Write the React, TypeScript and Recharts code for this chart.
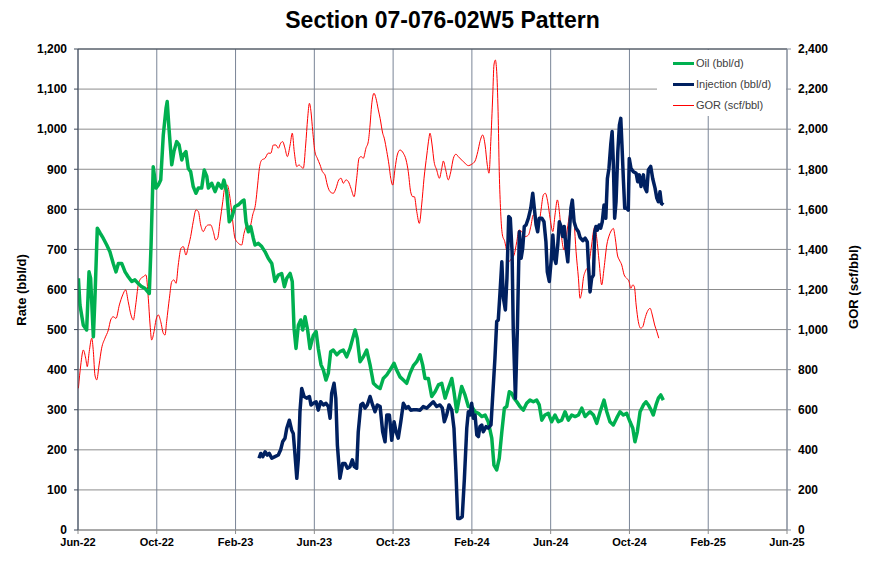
import { ComposedChart, Line, XAxis, YAxis, CartesianGrid, ReferenceLine } from "recharts";

// x values are months since Jun-22 (0 = Jun-22, 36 = Jun-25)
const xTicks = [0, 4, 8, 12, 16, 20, 24, 28, 32, 36];
const xTickLabels = ["Jun-22", "Oct-22", "Feb-23", "Jun-23", "Oct-23", "Feb-24", "Jun-24", "Oct-24", "Feb-25", "Jun-25"];
const rateTicks = [0, 100, 200, 300, 400, 500, 600, 700, 800, 900, 1000, 1100, 1200];
const gorTicks = [0, 200, 400, 600, 800, 1000, 1200, 1400, 1600, 1800, 2000, 2200, 2400];

const oilMonths = [
  0.02, 0.1, 0.27, 0.44, 0.56, 0.64, 0.78, 0.86, 0.98, 1.12, 1.28, 1.46, 1.62, 1.79, 1.93, 2.05, 2.22, 2.39, 2.55, 2.73,
  2.89, 3.06, 3.23, 3.4, 3.62, 3.71, 3.82, 3.96, 4.08, 4.2, 4.33, 4.47, 4.53, 4.62, 4.76, 4.87, 5.01, 5.13, 5.27, 5.35,
  5.48, 5.6, 5.72, 5.85, 5.99, 6.11, 6.28, 6.41, 6.54, 6.62, 6.79, 6.96, 7.12, 7.3, 7.41, 7.55, 7.68, 7.8, 7.97, 8.14,
  8.33, 8.43, 8.53, 8.65, 8.77, 8.9, 8.99, 9.16, 9.33, 9.5, 9.66, 9.84, 10.0, 10.17, 10.34, 10.48, 10.6, 10.77, 10.88,
  10.97, 11.07, 11.19, 11.31, 11.41, 11.53, 11.66, 11.78, 11.95, 12.09, 12.2, 12.34, 12.46, 12.59, 12.71, 12.83, 12.96,
  13.14, 13.3, 13.47, 13.64, 13.81, 13.95, 14.07, 14.18, 14.32, 14.49, 14.66, 14.83, 15.0, 15.17, 15.34, 15.5, 15.68,
  15.84, 16.05, 16.18, 16.35, 16.52, 16.69, 16.86, 17.03, 17.2, 17.37, 17.5, 17.62, 17.79, 17.96, 18.13, 18.3, 18.47,
  18.64, 18.8, 18.98, 19.09, 19.23, 19.36, 19.48, 19.65, 19.82, 19.99, 20.16, 20.33, 20.5, 20.67, 20.83, 21.01, 21.12,
  21.26, 21.39, 21.52, 21.65, 21.77, 21.9, 22.02, 22.14, 22.28, 22.44, 22.61, 22.78, 22.95, 23.12, 23.29, 23.42, 23.55,
  23.71, 23.88, 24.05, 24.22, 24.39, 24.56, 24.73, 24.9, 25.07, 25.24, 25.41, 25.58, 25.75, 25.91, 26.0, 26.17, 26.34,
  26.51, 26.71, 26.85, 27.01, 27.18, 27.35, 27.52, 27.69, 27.86, 28.03, 28.17, 28.28, 28.4, 28.54, 28.71, 28.84, 28.96,
  29.1, 29.21, 29.35, 29.47, 29.59, 29.72,
];
const oilRate = [
  628, 561, 511, 499, 644, 628, 482, 578, 753, 741, 728, 711, 694, 665, 644, 665, 665, 644, 632, 620,
  624, 615, 607, 603, 590, 711, 906, 853, 861, 873, 985, 1052, 1069, 1002, 911, 944, 969, 961, 923, 936,
  944, 902, 894, 857, 840, 853, 853, 898, 882, 853, 865, 844, 865, 853, 873, 844, 769, 778, 807, 811,
  820, 823, 769, 744, 757, 728, 711, 715, 707, 694, 678, 665, 620, 636, 640, 607, 628, 640, 620,
  503, 453, 511, 524, 499, 532, 499, 453, 486, 495, 453, 412, 399, 374, 391, 445, 449,
  437, 445, 449, 432, 453, 478, 499, 478, 420, 432, 449, 412, 366, 358, 353, 378, 387,
  399, 416, 399, 382, 374, 366, 391, 410, 420, 437, 412, 378, 378, 333, 345, 362, 366,
  329, 353, 378, 345, 295, 329, 358, 337, 308, 308, 295, 291, 283, 287, 270, 229, 162,
  150, 179, 245, 304, 308, 345, 341, 329, 320, 308, 299, 316, 324, 320, 324, 312, 274,
  287, 291, 270, 287, 270, 274, 295, 274, 287, 283, 287, 304, 283, 291, 295, 287, 266,
  295, 324, 295, 270, 262, 279, 295, 287, 291, 270, 254, 220, 245, 295, 312, 320, 312,
  299, 287, 312, 329, 337, 324,
];

const injMonths = [
  9.19, 9.28, 9.38, 9.5, 9.61, 9.71, 9.84, 10.0, 10.17, 10.29, 10.39, 10.51, 10.6, 10.73, 10.85, 10.93, 11.02, 11.11,
  11.19, 11.27, 11.36, 11.48, 11.61, 11.75, 11.83, 11.95, 12.09, 12.2, 12.32, 12.46, 12.59, 12.71, 12.8, 12.88, 13.0,
  13.09, 13.17, 13.3, 13.44, 13.56, 13.68, 13.81, 13.93, 14.03, 14.15, 14.23, 14.36, 14.46, 14.57, 14.69, 14.83, 14.96,
  15.08, 15.2, 15.34, 15.47, 15.59, 15.68, 15.81, 15.93, 16.05, 16.15, 16.26, 16.39, 16.52, 16.66, 16.77, 16.89, 17.03,
  17.2, 17.37, 17.53, 17.71, 17.87, 18.04, 18.21, 18.38, 18.5, 18.6, 18.72, 18.84, 18.98, 19.09, 19.19, 19.28, 19.4,
  19.51, 19.62, 19.74, 19.82, 19.91, 19.99, 20.07, 20.16, 20.25, 20.33, 20.41, 20.5, 20.58, 20.72, 20.83, 20.97, 21.06,
  21.17, 21.26, 21.34, 21.43, 21.52, 21.6, 21.7, 21.78, 21.87, 21.95, 22.04, 22.1, 22.21, 22.31, 22.41, 22.5, 22.58,
  22.66, 22.75, 22.87, 22.99, 23.09, 23.17, 23.26, 23.34, 23.42, 23.55, 23.66, 23.76, 23.83, 23.93, 24.02, 24.11, 24.19,
  24.27, 24.36, 24.44, 24.53, 24.61, 24.69, 24.78, 24.87, 24.95, 25.03, 25.1, 25.19, 25.29, 25.41, 25.49, 25.63, 25.75,
  25.86, 25.91, 26.0, 26.08, 26.17, 26.24, 26.3, 26.37, 26.46, 26.54, 26.62, 26.71, 26.8, 26.88, 26.96, 27.05, 27.12,
  27.18, 27.25, 27.32, 27.41, 27.49, 27.56, 27.62, 27.69, 27.76, 27.86, 27.94, 27.99, 28.08, 28.2, 28.34, 28.42, 28.5,
  28.59, 28.71, 28.79, 28.88, 28.96, 29.08, 29.18, 29.3, 29.39, 29.47, 29.55, 29.62, 29.72,
];
const injRate = [
  179, 191, 183, 195, 187, 191, 179, 183, 187, 200, 220, 229, 254, 274, 249, 241, 187, 129,
  179, 295, 353, 333, 329, 333, 312, 316, 320, 299, 320, 312, 316, 308, 279, 341, 366,
  329, 212, 129, 166, 166, 154, 158, 175, 158, 154, 245, 312, 316, 304, 312, 333, 312,
  295, 312, 308, 245, 220, 287, 287, 224, 270, 245, 229, 270, 316, 304, 308, 299, 300,
  300, 299, 308, 304, 312, 320, 308, 312, 304, 270, 287, 312, 299, 254, 145, 29, 29,
  33, 129, 254, 295, 287, 316, 279, 287, 237, 233, 258, 262, 245, 258, 254, 262, 337,
  428, 520, 524, 594, 669, 578, 549, 628, 782, 778, 694, 503, 329, 503, 744, 678, 703,
  757, 761, 778, 803, 840, 803, 761, 744, 778, 778, 769, 719, 644, 620, 669, 736, 678,
  665, 711, 769, 757, 732, 757, 703, 669, 744, 803, 823, 769, 753, 744, 730, 722, 728,
  719, 669, 594, 628, 636, 744, 757, 748, 761, 753, 769, 811, 778, 877, 902, 961, 994,
  919, 778, 819, 944, 1010, 1027, 961, 877, 803, 803, 798, 927, 902, 894, 890, 869, 886,
  857, 886, 853, 844, 898, 907, 877, 853, 828, 819, 844, 815, 811,
];

const gorMonths = [
  0.02, 0.14, 0.27, 0.39, 0.47, 0.57, 0.7, 0.78, 0.86, 0.95, 1.07, 1.2, 1.37, 1.54, 1.66, 1.79, 1.93, 2.1, 2.27, 2.42,
  2.55, 2.69, 2.81, 2.93, 3.06, 3.2, 3.32, 3.45, 3.57, 3.66, 3.74, 3.86, 3.96, 4.08, 4.2, 4.33, 4.42, 4.5, 4.64, 4.76,
  4.87, 4.98, 5.09, 5.23, 5.35, 5.48, 5.6, 5.72, 5.85, 5.99, 6.11, 6.23, 6.36, 6.5, 6.62, 6.74, 6.87, 6.99, 7.09, 7.21,
  7.35, 7.46, 7.58, 7.72, 7.84, 7.97, 8.14, 8.31, 8.43, 8.58, 8.73, 8.87, 9.02, 9.12, 9.21, 9.33, 9.5, 9.66, 9.79, 9.92,
  10.05, 10.17, 10.29, 10.39, 10.51, 10.63, 10.77, 10.88, 10.98, 11.11, 11.22, 11.32, 11.44, 11.56, 11.66, 11.75, 11.83,
  11.92, 12.03, 12.15, 12.29, 12.41, 12.54, 12.66, 12.8, 12.96, 13.1, 13.24, 13.36, 13.47, 13.61, 13.73, 13.86, 14.02,
  14.15, 14.27, 14.37, 14.49, 14.62, 14.74, 14.83, 14.91, 15.03, 15.13, 15.25, 15.34, 15.47, 15.55, 15.68, 15.79, 15.88,
  15.98, 16.1, 16.21, 16.35, 16.52, 16.66, 16.77, 16.89, 17.0, 17.08, 17.2, 17.33, 17.45, 17.57, 17.71, 17.82, 17.87,
  17.98, 18.08, 18.21, 18.35, 18.47, 18.55, 18.67, 18.8, 18.93, 19.06, 19.19, 19.31, 19.48, 19.65, 19.82, 19.99, 20.16,
  20.3, 20.41, 20.55, 20.67, 20.78, 20.87, 20.96, 21.06, 21.12, 21.19, 21.26, 21.33, 21.39, 21.46, 21.55, 21.67, 21.77,
  21.87, 22.02, 22.14, 22.28, 22.39, 22.53, 22.7, 22.87, 22.99, 23.12, 23.26, 23.37, 23.5, 23.63, 23.73, 23.85, 23.97,
  24.11, 24.22, 24.34, 24.44, 24.56, 24.68, 24.78, 24.9, 25.02, 25.1, 25.19, 25.29, 25.41, 25.49, 25.58, 25.66, 25.77,
  25.92, 26.08, 26.17, 26.25, 26.34, 26.46, 26.59, 26.71, 26.85, 26.98, 27.1, 27.18, 27.28, 27.39, 27.49, 27.61, 27.73,
  27.86, 27.98, 28.07, 28.17, 28.25, 28.34, 28.45, 28.57, 28.68, 28.79, 28.91, 29.05, 29.16, 29.28, 29.39, 29.49,
];
const gorValue = [
  707, 823, 898, 857, 815, 890, 957, 890, 773, 749, 823, 907, 957, 998, 1048, 1064, 1056, 1123, 1173, 1198,
  1139, 1073, 1048, 1123, 1223, 1256, 1264, 1273, 1156, 1023, 948, 990, 1048, 1073, 1040, 982, 973, 1040, 1156, 1239,
  1248, 1231, 1322, 1406, 1414, 1372, 1414, 1464, 1538, 1597, 1589, 1522, 1489, 1514, 1522, 1522, 1489, 1447, 1456, 1538,
  1638, 1713, 1721, 1655, 1555, 1456, 1431, 1422, 1480, 1518, 1514, 1572, 1630, 1721, 1805, 1846, 1855, 1880, 1880, 1921,
  1921, 1905, 1930, 1938, 1905, 1863, 1921, 1980, 1888, 1813, 1822, 1813, 1805, 1921, 2054, 2129, 2087,
  1988, 1888, 1855, 1822, 1788, 1772, 1721, 1688, 1680, 1705, 1747, 1755, 1730, 1747, 1738, 1705, 1663,
  1755, 1855, 1863, 1855, 1905, 1938, 2021, 2121, 2179, 2154, 2096, 2054, 1980, 1955, 1888, 1822, 1755,
  1721, 1805, 1871, 1896, 1880, 1846, 1788, 1688, 1663, 1663, 1589, 1530, 1622, 1755, 1871, 1955, 1980,
  1921, 1838, 1797, 1755, 1805, 1841, 1797, 1747, 1788, 1855, 1875, 1863, 1846, 1830, 1818, 1825, 1841,
  1888, 1938, 1971, 1921, 1822, 1780, 1938, 2171, 2320, 2345, 2287, 2087, 1788, 1589, 1472, 1439, 1389,
  1339, 1356, 1372, 1439, 1497, 1489, 1464, 1472, 1514, 1572, 1547, 1505, 1589, 1672, 1680, 1638, 1555,
  1489, 1572, 1647, 1589, 1456, 1397, 1456, 1538, 1605, 1622, 1538, 1389, 1256, 1156, 1189, 1256, 1293,
  1320, 1422, 1489, 1514, 1456, 1339, 1223, 1306, 1422, 1472, 1497, 1505, 1456, 1372, 1347, 1322, 1273,
  1256, 1239, 1206, 1223, 1214, 1123, 1040, 1007, 1015, 1056, 1090, 1106, 1073, 1023, 990, 957,
];

const oilData = oilMonths.map((m, i) => ({ m, v: oilRate[i] }));
const injData = injMonths.map((m, i) => ({ m, v: injRate[i] }));
const gorData = gorMonths.map((m, i) => ({ m, v: gorValue[i] }));

const legendItems = [
  { name: "Oil (bbl/d)", color: "#00b050", width: 3 },
  { name: "Injection (bbl/d)", color: "#002060", width: 3 },
  { name: "GOR (scf/bbl)", color: "#ff0000", width: 1 },
];

const FONT = '"Liberation Sans", Arial, sans-serif';
const tickStyle = { fill: "#000", fontSize: 12, fontWeight: "bold" as const, fontFamily: FONT };
const fmt = (v: number) => v.toLocaleString("en-US");

function AxisTitle({ x, y, text }: { x: number; y: number; text: string }) {
  return (
    <text
      x={x}
      y={y}
      transform={`rotate(-90 ${x} ${y})`}
      textAnchor="middle"
      dominantBaseline="central"
      style={{ fontFamily: FONT, fontSize: 13, fontWeight: "bold", fill: "#000" }}
    >
      {text}
    </text>
  );
}

export default function App() {
  return (
    <div style={{ position: "absolute", left: 0, top: 0, width: 885, height: 562, background: "#fff", fontFamily: FONT }}>
      <div
        style={{
          position: "absolute",
          left: 0,
          top: 7,
          width: 885,
          textAlign: "center",
          fontSize: 23,
          fontWeight: "bold",
          color: "#000",
        }}
      >
        Section 07-076-02W5 Pattern
      </div>
      <ComposedChart width={885} height={562} margin={{ top: 49, right: 38, bottom: 10, left: 18 }}>
        <CartesianGrid yAxisId="left" vertical={false} stroke="#8c8c8c" strokeWidth={1} />
        <CartesianGrid yAxisId="left" horizontal={false} stroke="#7a8597" strokeWidth={1} />
        <XAxis
          type="number"
          dataKey="m"
          domain={[0, 36]}
          ticks={xTicks}
          tickFormatter={(v) => xTickLabels[xTicks.indexOf(v)]}
          allowDataOverflow
          height={22}
          tickSize={4}
          tickMargin={4}
          stroke="#8c8c8c"
          tick={{ ...tickStyle, fontSize: 11 }}
        />
        <YAxis
          yAxisId="left"
          domain={[0, 1200]}
          ticks={rateTicks}
          tickFormatter={fmt}
          width={60}
          tickSize={4}
          tickMargin={7}
          stroke="#3f4a5a"
          tick={tickStyle}
          label={{ content: () => <AxisTitle x={21} y={290} text="Rate (bbl/d)" /> }}
        />
        <YAxis
          yAxisId="right"
          orientation="right"
          domain={[0, 2400]}
          ticks={gorTicks}
          tickFormatter={fmt}
          width={60}
          tickSize={4}
          tickMargin={7}
          stroke="#8a929e"
          tick={tickStyle}
          label={{ content: () => <AxisTitle x={853} y={287} text="GOR (scf/bbl)" /> }}
        />
        <ReferenceLine yAxisId="left" y={1200} stroke="#3f4a5a" />
        <Line
          yAxisId="right"
          data={gorData}
          dataKey="v"
          type="monotone"
          stroke="#ff0000"
          strokeWidth={1}
          dot={false}
          isAnimationActive={false}
        />
        <Line
          yAxisId="left"
          data={oilData}
          dataKey="v"
          type="linear"
          stroke="#00b050"
          strokeWidth={3.5}
          strokeLinejoin="round"
          dot={false}
          isAnimationActive={false}
        />
        <Line
          yAxisId="left"
          data={injData}
          dataKey="v"
          type="linear"
          stroke="#002060"
          strokeWidth={3.5}
          strokeLinejoin="round"
          dot={false}
          isAnimationActive={false}
        />
      </ComposedChart>
      <div
        style={{
          position: "absolute",
          left: 657,
          top: 50,
          width: 129,
          height: 66,
          background: "#fff",
        }}
      >
        {legendItems.map((item, i) => (
          <div
            key={item.name}
            style={{
              position: "absolute",
              left: 16,
              top: 6 + i * 21,
              height: 14,
              display: "flex",
              alignItems: "center",
              fontSize: 11,
              color: "#404040",
              whiteSpace: "nowrap",
            }}
          >
            <span style={{ display: "inline-block", width: 21, height: item.width, background: item.color, marginRight: 2 }} />
            {item.name}
          </div>
        ))}
      </div>
    </div>
  );
}
